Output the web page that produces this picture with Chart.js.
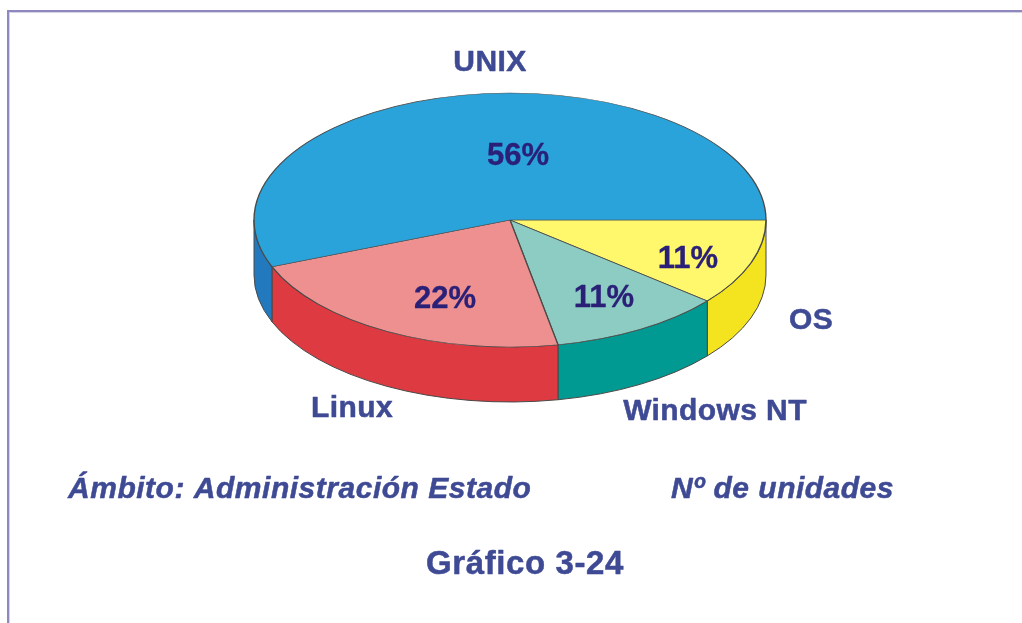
<!DOCTYPE html>
<html><head><meta charset="utf-8">
<style>
html,body{margin:0;padding:0;background:#fff;width:1022px;height:623px;overflow:hidden}
#frame{position:absolute;left:7px;top:10px;right:-10px;bottom:-10px;border-top:2px solid #8d88bd;border-left:2px solid #8d88bd;box-shadow:inset 1px 1px 0 #d5d3e8}
#wrap{position:absolute;left:0;top:0;width:1022px;height:623px}
canvas{filter:blur(0.35px)}
</style>
<script src="https://cdn.jsdelivr.net/npm/chart.js@4"></script>
</head><body>
<div id="frame"></div>
<div id="wrap"><canvas id="c" width="1022" height="623"></canvas></div>
<script>
const categories = ['OS', 'Windows NT', 'Linux', 'UNIX'];
const percentages = [11, 11, 22, 56];
const percentLabels = ['11%', '11%', '22%', '56%'];
const topColors = ['#FFF76C', '#8DCCC3', '#EE9090', '#2AA2DA'];
const wallColors = ['#F4E31F', '#009A92', '#DE3A41', '#2279BD'];
const captions = ['Ámbito: Administración Estado', 'Nº de unidades', 'Gráfico 3-24'];

const RX = 256, RY = 127, DEPTH = 55;
const LABEL = '#3F4A94', PCT = '#2A2078', EDGE = '#4a4a48';
const labelPos = [[811, 321], [715, 412], [352, 409], [490, 63]];
const pctPos = [[688, 259], [604, 298], [445, 299], [518, 156]];

function put(ctx, text, x, y, spacing, weight) {
  ctx.letterSpacing = spacing + 'px';
  ctx.fillText(text, x, y);
  ctx.lineWidth = weight;
  ctx.strokeStyle = ctx.fillStyle;
  ctx.strokeText(text, x, y);
}

const pie3d = {
  id: 'pie3d',
  beforeDatasetsDraw(chart) {
    const ctx = chart.ctx;
    const arcs = chart.getDatasetMeta(0).data;
    const cx = arcs[0].x, cy = arcs[0].y;
    arcs.forEach((arc, i) => {
      const a0 = Math.max(arc.startAngle, 0);
      const a1 = Math.min(arc.endAngle, Math.PI);
      if (a1 <= a0) return;
      ctx.save();
      ctx.beginPath();
      ctx.ellipse(cx, cy, RX, RY, 0, a0, a1);
      ctx.ellipse(cx, cy + DEPTH, RX, RY, 0, a1, a0, true);
      ctx.closePath();
      ctx.fillStyle = wallColors[i];
      ctx.fill();
      ctx.lineWidth = 1;
      ctx.strokeStyle = EDGE;
      ctx.stroke();
      ctx.restore();
    });
    ctx.save();
    ctx.translate(cx, cy);
    ctx.scale(1, RY / RX);
    ctx.translate(-cx, -cy);
  },
  afterDatasetsDraw(chart) {
    chart.ctx.restore();
  },
  afterDraw(chart) {
    const ctx = chart.ctx;
    ctx.save();
    ctx.textBaseline = 'middle';
    ctx.textAlign = 'center';
    ctx.lineJoin = 'round';
    ctx.fillStyle = LABEL;
    ctx.font = 'bold 30px "Liberation Sans", Arial, sans-serif';
    categories.forEach((t, i) => put(ctx, t, labelPos[i][0], labelPos[i][1], 0.4, 0.5));
    ctx.fillStyle = PCT;
    ctx.font = 'bold 31px "Liberation Sans", Arial, sans-serif';
    percentLabels.forEach((t, i) => put(ctx, t, pctPos[i][0], pctPos[i][1], 0, 0.3));
    ctx.fillStyle = LABEL;
    ctx.textAlign = 'left';
    ctx.font = 'italic bold 30px "Liberation Sans", Arial, sans-serif';
    put(ctx, captions[0], 68, 490, 0.52, 0.5);
    put(ctx, captions[1], 671, 490, 0.5, 0.5);
    ctx.textAlign = 'center';
    ctx.font = 'bold 33px "Liberation Sans", Arial, sans-serif';
    put(ctx, captions[2], 525, 565, 0.6, 0.5);
    ctx.restore();
  }
};

new Chart(document.getElementById('c'), {
  type: 'pie',
  data: {
    labels: categories,
    datasets: [{
      data: percentages,
      backgroundColor: topColors,
      borderColor: EDGE,
      borderWidth: 1.4,
      borderJoinStyle: 'round',
      hoverOffset: 0
    }]
  },
  options: {
    responsive: false,
    animation: false,
    rotation: 90,
    radius: RX,
    layout: { padding: { left: 0, right: 2, top: 0, bottom: 183 } },
    plugins: { legend: { display: false }, tooltip: { enabled: false } }
  },
  plugins: [pie3d]
});
</script>
</body></html>
